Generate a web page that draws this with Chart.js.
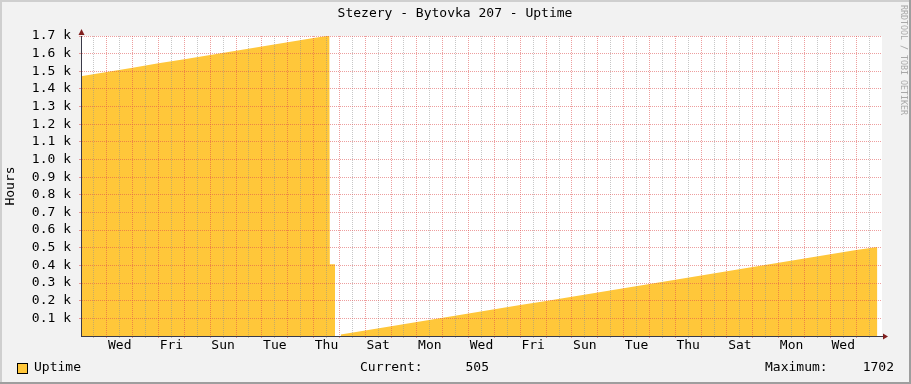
<!DOCTYPE html>
<html>
<head>
<meta charset="utf-8">
<title>Stezery - Bytovka 207 - Uptime</title>
<script src="https://cdn.jsdelivr.net/npm/chart.js@4.4.1/dist/chart.umd.min.js"></script>
<style>
html, body { margin: 0; padding: 0; background: #f2f2f2; }
canvas { display: block; }
</style>
</head>
<body>
<canvas id="uptime-chart" width="911" height="384"></canvas>
<script>
//  Data Stuff  (x = days since the Tuesday midnight at the left edge, y = hours)

var days = [0, 1, 2, 3, 4, 5, 6, 7, 8, 9, 9.61,
            9.63, 9.83, 9.9,
            10.05, 11, 12, 13, 14, 15, 16, 17, 18, 19, 20,
            21, 22, 23, 24, 25, 26, 27, 28, 29, 30, 30.82];
var uptime = [1472, 1496, 1520, 1545, 1568, 1592, 1617, 1640, 1664, 1689, 1702,
              407, 407, null,
              8, 31, 55, 79, 103, 127, 151, 175, 199, 223, 247,
              271, 295, 319, 343, 367, 391, 415, 439, 463, 487, 505];

// day names, one every second day, centred on noon (1.5, 3.5, ...)
var dayLabels = ['Wed', 'Fri', 'Sun', 'Tue', 'Thu', 'Sat', 'Mon', 'Wed',
                 'Fri', 'Sun', 'Tue', 'Thu', 'Sat', 'Mon', 'Wed'];
var xDays = 31;
var yMax = 1700;
var yStep = 100;
var chartTitle = 'Stezery - Bytovka 207 - Uptime';



// Chart Ebds

var MONO = 'DejaVu Sans Mono';
Chart.defaults.font.family = MONO;
Chart.defaults.color = '#000000';

var MGRID = 'rgba(222,79,79,0.55)';
var GRID = 'rgba(143,143,143,0.5)';
var NONE = 'rgba(0,0,0,0)';

var points = [];
for (var i = 0; i < days.length; i++) {
    points.push({ x: days[i], y: uptime[i] });
}

var current = uptime[uptime.length - 1];
var maximum = Math.max.apply(null, uptime.filter(function (v) { return v !== null; }));

const rrdLook = {
    id: 'rrdLook',
    beforeDraw: function (chart) {
        var ctx = chart.ctx, a = chart.chartArea;
        var w = chart.width, h = chart.height;
        ctx.save();
        ctx.fillStyle = '#f2f2f2';
        ctx.fillRect(0, 0, w, h);
        // 3d frame
        ctx.fillStyle = '#cfcfcf';
        ctx.fillRect(0, 0, w, 2);
        ctx.fillRect(0, 0, 2, h);
        ctx.fillStyle = '#9e9e9e';
        ctx.fillRect(0, h - 2, w, 2);
        ctx.fillRect(w - 2, 0, 2, h);
        // canvas
        ctx.fillStyle = '#ffffff';
        ctx.fillRect(a.left, a.top, a.right - a.left, a.bottom - a.top);
        ctx.restore();
    },
    afterDraw: function (chart) {
        var ctx = chart.ctx, a = chart.chartArea;
        ctx.save();
        // title
        ctx.fillStyle = '#000000';
        ctx.font = '13px ' + MONO;
        ctx.textBaseline = 'middle';
        ctx.textAlign = 'center';
        ctx.fillText(chartTitle, 455, 14);

        // arrows
        ctx.fillStyle = '#801f1f';
        ctx.beginPath();
        ctx.moveTo(a.left + 0.5, a.top - 7);
        ctx.lineTo(a.left - 2.5, a.top - 1);
        ctx.lineTo(a.left + 3.5, a.top - 1);
        ctx.closePath();
        ctx.fill();
        ctx.beginPath();
        ctx.moveTo(a.right + 6, a.bottom + 0.5);
        ctx.lineTo(a.right + 1, a.bottom - 2.5);
        ctx.lineTo(a.right + 1, a.bottom + 3.5);
        ctx.closePath();
        ctx.fill();

        // watermark
        ctx.fillStyle = '#a8a8a8';
        ctx.font = '8.3px ' + MONO;
        ctx.textBaseline = 'middle';
        ctx.textAlign = 'left';
        ctx.translate(903, 5);
        ctx.rotate(Math.PI / 2);
        ctx.fillText('RRDTOOL / TOBI OETIKER', 0, 0);
        ctx.setTransform(1, 0, 0, 1, 0, 0);

        // legend
        var ly = 368;
        ctx.fillStyle = '#ffc73a';
        ctx.fillRect(17.5, 363.5, 10, 10);
        ctx.strokeStyle = '#000000';
        ctx.lineWidth = 1;
        ctx.strokeRect(17.5, 363.5, 10, 10);
        ctx.fillStyle = '#000000';
        ctx.font = '13px ' + MONO;
        ctx.textBaseline = 'middle';
        ctx.textAlign = 'left';
        ctx.fillText('Uptime', 34, ly);
        ctx.fillText('Current:', 360, ly);
        ctx.fillText('Maximum:', 765, ly);
        ctx.textAlign = 'right';
        ctx.fillText(String(current), 489, ly);
        ctx.fillText(String(maximum), 894, ly);
        ctx.restore();
    }
};

const chartthis = new Chart(document.getElementById('uptime-chart'), {
    type: 'line',
    data: {
        datasets: [{
            label: 'Uptime',
            data: points,
            backgroundColor: '#ffc73a',
            borderColor: '#ffc73a',
            borderWidth: 0,
            pointRadius: 0,
            tension: 0,
            spanGaps: false,
            fill: 'origin'
        }]
    },
    options: {
        responsive: false,
        animation: false,
        devicePixelRatio: 1,
        layout: { padding: { left: 0, right: 29, top: 36, bottom: 28 } },
        plugins: {
            legend: { display: false },
            tooltip: { enabled: false },
            title: { display: false }
        },
        scales: {
            x: {
                type: 'linear',
                min: 0,
                max: xDays,
                afterBuildTicks: function (scale) {
                    var t = [];
                    for (var v = 0; v <= xDays; v += 0.5) t.push({ value: v });
                    scale.ticks = t;
                },
                afterFit: function (scale) { scale.height = 20; },
                grid: {
                    z: 1,
                    lineWidth: 1,
                    tickLength: 2,
                    tickBorderDash: [],
                    color: function (c) {
                        var v = c.tick ? c.tick.value : 0;
                        if (v === 0 || v === xDays) return NONE;
                        return v % 1 === 0 ? MGRID : GRID;
                    }
                },
                border: { display: true, z: 1, color: '#3a3a48', width: 1, dash: [1, 1] },
                ticks: {
                    autoSkip: false,
                    maxRotation: 0,
                    padding: 0,
                    font: { size: 13 },
                    color: '#000000',
                    callback: function (v) {
                        var k = (v - 1.5) / 2;
                        return (k >= 0 && k % 1 === 0 && k < dayLabels.length) ? dayLabels[k] : '';
                    }
                }
            },
            y: {
                min: 0,
                max: yMax,
                afterBuildTicks: function (scale) {
                    var t = [];
                    for (var v = 0; v <= yMax; v += yStep) t.push({ value: v });
                    scale.ticks = t;
                },
                afterFit: function (scale) { scale.width = 81; },
                title: {
                    display: true,
                    text: 'Hours',
                    color: '#000000',
                    font: { size: 13 },
                    padding: { top: 3, bottom: 0 }
                },
                grid: {
                    z: 1,
                    lineWidth: 1,
                    tickLength: 2,
                    tickBorderDash: [],
                    color: function (c) {
                        var v = c.tick ? c.tick.value : 0;
                        return v === 0 ? NONE : MGRID;
                    }
                },
                border: { display: true, z: 1, color: '#3a3a48', width: 1, dash: [1, 1] },
                ticks: {
                    autoSkip: false,
                    padding: 8,
                    font: { size: 13 },
                    color: '#000000',
                    callback: function (v) {
                        return v === 0 ? '' : (v / 1000).toFixed(1) + ' k';
                    }
                }
            }
        }
    },
    plugins: [rrdLook]
});
</script>
</body>
</html>
